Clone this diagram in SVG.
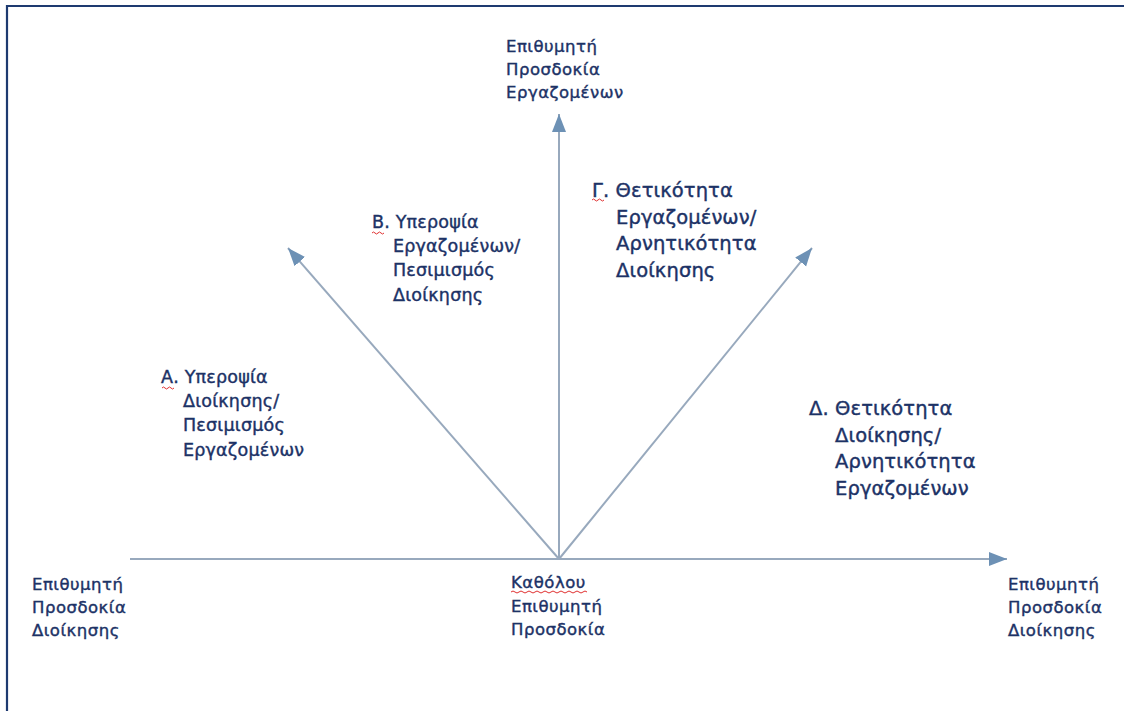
<svg xmlns="http://www.w3.org/2000/svg" width="1124" height="711" viewBox="0 0 1124 711">
  <style>
    .lbl { font-family: "DejaVu Sans", "Liberation Sans", sans-serif; fill: #1c3266; stroke: #1c3266; stroke-width: 0.4; }
    .ax { font-size: 16.5px; letter-spacing: 0.5px; }
    .q { font-size: 17.5px; letter-spacing: 0.2px; }
    .qb { font-size: 19.5px; letter-spacing: 0.1px; }
    .axis { stroke: #98a9bd; stroke-width: 2; fill: none; marker-end: url(#head); }
    .spell { stroke: #e03030; stroke-width: 1; fill: none; }
  </style>
  <defs>
    <marker id="head" markerUnits="userSpaceOnUse" markerWidth="20" markerHeight="16" refX="18" refY="7" orient="auto">
      <path d="M0,0 L18,7 L0,14 Z" fill="#6d91b5"/>
    </marker>
  </defs>

  <rect width="1124" height="711" fill="#ffffff"/>
  <!-- frame -->
  <path d="M7,716 L7,6 L1130,6" fill="none" stroke="#1e3a70" stroke-width="2.2"/>

  <!-- axes -->
  <g id="connectors">
    <line class="axis" x1="130" y1="559" x2="1007" y2="559"/>
    <line class="axis" x1="559" y1="559" x2="559" y2="114"/>
    <line class="axis" x1="559" y1="559" x2="288" y2="248"/>
    <line class="axis" x1="559" y1="559" x2="812" y2="248"/>
  </g>

  <g id="node-top" class="lbl ax">
    <text x="506" y="52">Επιθυμητή</text>
    <text x="506" y="75">Προσδοκία</text>
    <text x="506" y="98">Εργαζομένων</text>
  </g>

  <g id="node-left" class="lbl ax">
    <text x="32" y="590">Επιθυμητή</text>
    <text x="32" y="613">Προσδοκία</text>
    <text x="32" y="636">Διοίκησης</text>
  </g>

  <g id="node-origin" class="lbl ax">
    <text x="511" y="588">Καθόλου</text>
    <text x="511" y="612">Επιθυμητή</text>
    <text x="511" y="635">Προσδοκία</text>
    <path class="spell" d="M511,592 q2,-2 4,0 t4,0 t4,0 t4,0 t4,0 t4,0 t4,0 t4,0 t4,0 t4,0 t4,0 t4,0 t4,0 t4,0 t4,0 t4,0 t4,0 t4,0 t4,0"/>
  </g>

  <g id="node-right" class="lbl ax">
    <text x="1008" y="590">Επιθυμητή</text>
    <text x="1008" y="613">Προσδοκία</text>
    <text x="1008" y="636">Διοίκησης</text>
  </g>

  <g id="node-a" class="lbl q">
    <text x="161" y="383">Α. Υπεροψία</text>
    <text x="183" y="407">Διοίκησης/</text>
    <text x="183" y="431">Πεσιμισμός</text>
    <text x="183" y="456">Εργαζομένων</text>
    <path class="spell" d="M162,388 q1.5,-2 3,0 t3,0 t3,0 t3,0"/>
  </g>

  <g id="node-b" class="lbl q">
    <text x="372" y="228">Β. Υπεροψία</text>
    <text x="393" y="252">Εργαζομένων/</text>
    <text x="393" y="276">Πεσιμισμός</text>
    <text x="393" y="301">Διοίκησης</text>
    <path class="spell" d="M372,233 q1.5,-2 3,0 t3,0 t3,0 t3,0"/>
  </g>

  <g id="node-c" class="lbl qb">
    <text x="592" y="197">Γ. Θετικότητα</text>
    <text x="616" y="224">Εργαζομένων/</text>
    <text x="616" y="250">Αρνητικότητα</text>
    <text x="616" y="277">Διοίκησης</text>
    <path class="spell" d="M592,200 q1.5,-2 3,0 t3,0 t3,0 t3,0"/>
  </g>

  <g id="node-d" class="lbl qb">
    <text x="809" y="415">Δ. Θετικότητα</text>
    <text x="835" y="442">Διοίκησης/</text>
    <text x="835" y="468">Αρνητικότητα</text>
    <text x="835" y="495">Εργαζομένων</text>
  </g>
</svg>
